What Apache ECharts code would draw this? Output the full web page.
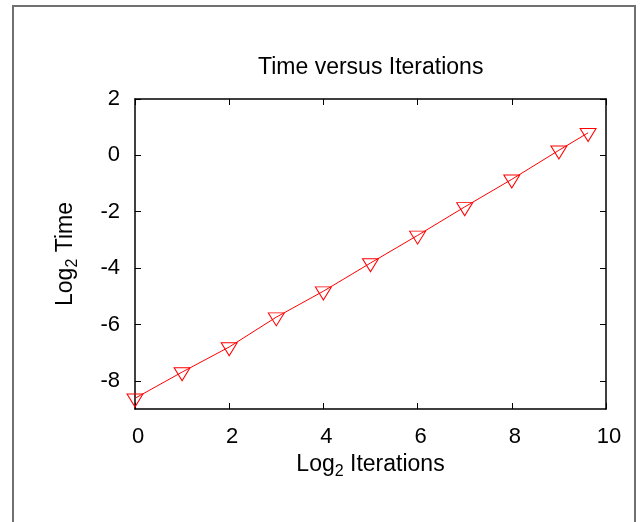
<!DOCTYPE html>
<html>
<head>
<meta charset="utf-8">
<script src="https://cdn.jsdelivr.net/npm/echarts@6/dist/echarts.min.js"></script>
<style>
html,body{margin:0;padding:0;background:#fff;}
#chart{width:642px;height:522px;}
</style>
</head>
<body>
<div id="chart"></div>
<script>
// Data
var log2Iterations = [0, 1, 2, 3, 4, 5, 6, 7, 8, 9, 9.62];
var log2Time = [-8.62, -7.69, -6.80, -5.74, -4.82, -3.82, -2.84, -1.83, -0.85, 0.18, 0.80];
var xTicks = [0, 2, 4, 6, 8, 10];
var yTicks = [-8, -6, -4, -2, 0, 2];

var FONT = '"Liberation Sans", Arial, Helvetica, sans-serif';
var points = log2Iterations.map(function (x, i) { return [x, log2Time[i]]; });

var chart = echarts.init(document.getElementById('chart'), null, {renderer: 'canvas'});
var axisLineStyle = {color: '#000', width: 1.5};
var tickStyle = {color: '#000', width: 1};

var option = {
  backgroundColor: '#fff',
  animation: false,
  title: {
    text: 'Time versus Iterations',
    left: 253,
    top: 49,
    textStyle: {fontFamily: FONT, fontSize: 23, fontWeight: 'normal', color: '#000', lineHeight: 28}
  },
  graphic: [{
    type: 'rect',
    shape: {x: 13, y: 6, width: 622, height: 600},
    style: {fill: 'none', stroke: '#707070', lineWidth: 2},
    silent: true
  }],
  grid: {left: 135, right: 36, top: 99, bottom: 113, containLabel: false},
  xAxis: [{
    type: 'value', position: 'bottom', min: 0, max: 10, interval: 2,
    name: '{a|Log}{s|2}{a| Iterations}',
    nameLocation: 'middle', nameGap: 39,
    nameTextStyle: {
      rich: {
        a: {fontFamily: FONT, fontSize: 23, color: '#000', lineHeight: 30},
        s: {fontFamily: FONT, fontSize: 16, color: '#000', lineHeight: 30, verticalAlign: 'bottom'}
      }
    },
    axisLine: {show: true, onZero: false, lineStyle: axisLineStyle},
    axisTick: {show: true, inside: true, length: 6, lineStyle: tickStyle},
    axisLabel: {fontFamily: FONT, fontSize: 22, color: '#000', margin: 17, padding: [0, 0, 0, 6], customValues: xTicks},
    splitLine: {show: false}
  }, {
    type: 'value', position: 'top', min: 0, max: 10, interval: 2,
    axisLine: {show: true, onZero: false, lineStyle: axisLineStyle},
    axisTick: {show: true, inside: true, length: 6, lineStyle: tickStyle},
    axisLabel: {show: false},
    splitLine: {show: false}
  }],
  yAxis: [{
    type: 'value', position: 'left', min: -9, max: 2,
    name: '{a|Log}{s|2}{a| Time}',
    nameLocation: 'middle', nameGap: 54, nameRotate: 90,
    nameTextStyle: {
      rich: {
        a: {fontFamily: FONT, fontSize: 23, color: '#000', lineHeight: 30},
        s: {fontFamily: FONT, fontSize: 16, color: '#000', lineHeight: 30, verticalAlign: 'bottom'}
      }
    },
    axisLine: {show: true, onZero: false, lineStyle: axisLineStyle},
    axisTick: {show: true, inside: true, length: 6, lineStyle: tickStyle, customValues: yTicks},
    axisLabel: {fontFamily: FONT, fontSize: 22, color: '#000', margin: 15, customValues: yTicks},
    splitLine: {show: false}
  }, {
    type: 'value', position: 'right', min: -9, max: 2,
    axisLine: {show: true, onZero: false, lineStyle: axisLineStyle},
    axisTick: {show: true, inside: true, length: 6, lineStyle: tickStyle, customValues: yTicks},
    axisLabel: {show: false},
    splitLine: {show: false}
  }],
  series: [{
    type: 'line',
    xAxisIndex: 0,
    yAxisIndex: 0,
    data: points,
    showAllSymbol: true,
    symbol: 'path://M0,0 L23,0 L11.5,20 Z',
    symbolSize: [16, 13],
    symbolOffset: [0, 2.2],
    lineStyle: {color: '#ff0000', width: 1},
    itemStyle: {color: 'rgba(255,255,255,0)', borderColor: '#ff0000', borderWidth: 1},
    emphasis: {disabled: true}
  }]
};
chart.setOption(option);
</script>
</body>
</html>
